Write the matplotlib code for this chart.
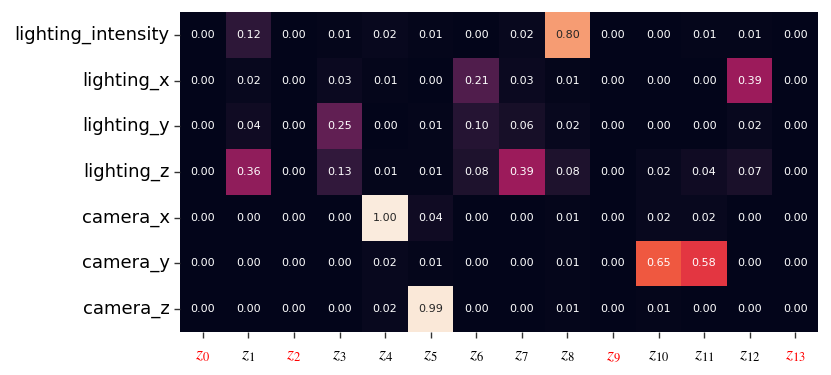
import numpy as np
import matplotlib
matplotlib.use("Agg")
import matplotlib.pyplot as plt
import seaborn as sns

# factor names (rows) and latent dims (columns)
factors = ["lighting_intensity", "lighting_x", "lighting_y", "lighting_z",
           "camera_x", "camera_y", "camera_z"]
latents = [r"$z_{%d}$" % i for i in range(14)]
unused = [0, 2, 9, 13]  # dims drawn in red

lighting_intensity = [0.00, 0.12, 0.00, 0.01, 0.02, 0.01, 0.00, 0.02, 0.80, 0.00, 0.00, 0.01, 0.01, 0.00]
lighting_x = [0.00, 0.02, 0.00, 0.03, 0.01, 0.00, 0.21, 0.03, 0.01, 0.00, 0.00, 0.00, 0.39, 0.00]
lighting_y = [0.00, 0.04, 0.00, 0.25, 0.00, 0.01, 0.10, 0.06, 0.02, 0.00, 0.00, 0.00, 0.02, 0.00]
lighting_z = [0.00, 0.36, 0.00, 0.13, 0.01, 0.01, 0.08, 0.39, 0.08, 0.00, 0.02, 0.04, 0.07, 0.00]
camera_x = [0.00, 0.00, 0.00, 0.00, 1.00, 0.04, 0.00, 0.00, 0.01, 0.00, 0.02, 0.02, 0.00, 0.00]
camera_y = [0.00, 0.00, 0.00, 0.00, 0.02, 0.01, 0.00, 0.00, 0.01, 0.00, 0.65, 0.58, 0.00, 0.00]
camera_z = [0.00, 0.00, 0.00, 0.00, 0.02, 0.99, 0.00, 0.00, 0.01, 0.00, 0.01, 0.00, 0.00, 0.00]

mat = np.array([lighting_intensity, lighting_x, lighting_y, lighting_z,
                camera_x, camera_y, camera_z])

plt.rcParams['font.family'] = ['DejaVu Sans']
plt.rcParams['mathtext.fontset'] = 'stix'

fig = plt.figure(figsize=(8.31, 3.75), dpi=100)
ax = fig.add_axes([0.2166, 0.1147, 0.7678, 0.8533])
sns.heatmap(mat, ax=ax, cmap="rocket", annot=True, fmt=".2f", cbar=False,
            annot_kws={"fontsize": 8})

ax.set_xticklabels(latents, rotation=0, fontsize=13)
ax.set_yticklabels(factors, rotation=0, fontsize=13)
for i, lab in enumerate(ax.get_xticklabels()):
    if i in unused:
        lab.set_color("red")
ax.tick_params(axis='both', which='major', bottom=True, left=True,
               length=4, width=1, color='#333333')
ax.tick_params(axis='x', pad=6)

fig.savefig("out.png", dpi=100)
